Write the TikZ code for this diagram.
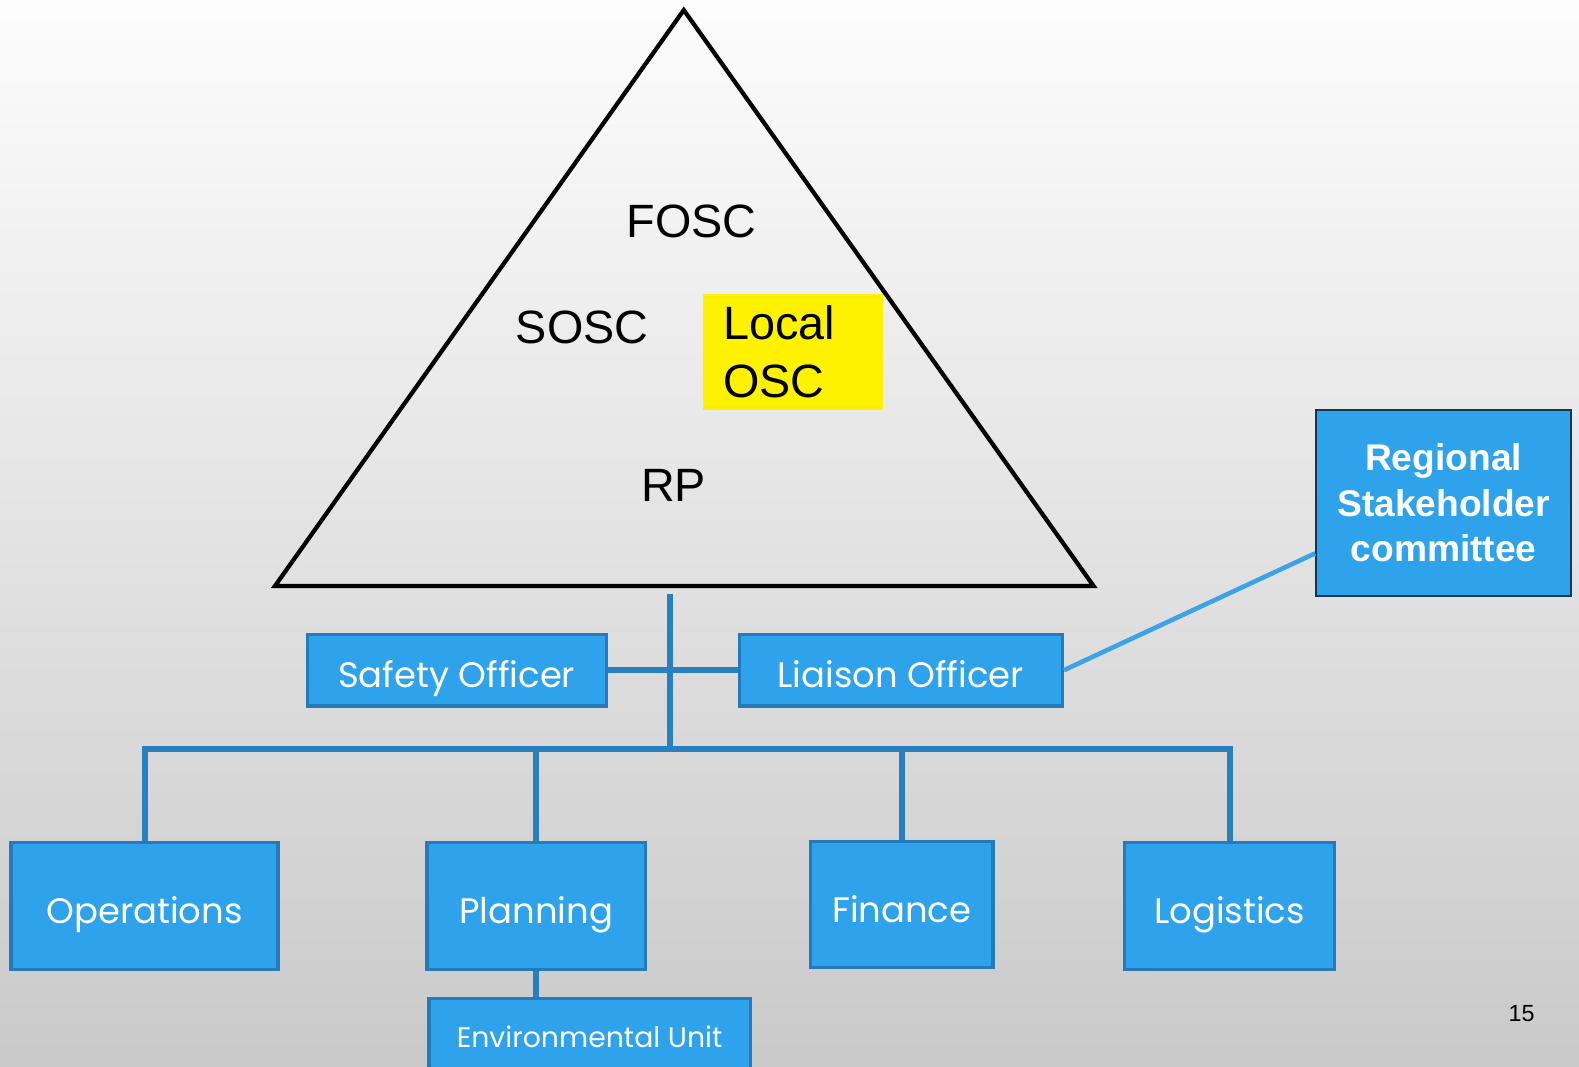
\documentclass[tikz,border=0pt]{standalone}
\usepackage{fontspec}
\setmainfont{Liberation Sans}
\newfontfamily\boxfont{Poppins}
\usepackage{xcolor}
\usetikzlibrary{arrows.meta}
\definecolor{boxblue}{RGB}{46,163,236}
\definecolor{edgeblue}{RGB}{36,122,186}
\definecolor{lineblue}{RGB}{40,128,192}
\definecolor{linkblue}{RGB}{59,163,230}

\begin{document}
\begin{tikzpicture}[
  unit/.style={draw=edgeblue, line width=0.9pt, fill=boxblue, text=white, text height=0.35cm, text depth=0pt, font=\boxfont\fontsize{10}{12}\selectfont},
  conn/.style={lineblue, line width=1.7pt},
  big/.style={font=\fontsize{13.2}{16.5}\selectfont}]
\fill[top color=black!1, bottom color=black!21] (0,0) rectangle (15.68,10.59);
\useasboundingbox (0,0) rectangle (15.68,10.59);

\draw[line width=1.2pt, line join=miter] (6.79,10.49) -- (2.73,4.77) -- (10.86,4.77) -- cycle;
\node (FOSC) at (6.87,8.39) [big] {FOSC};
\node (SOSC) at (5.78,7.34) [big] {SOSC};
\node (LOSC) at (7.875,7.095) [big, fill=yellow, minimum width=1.79cm, minimum height=1.15cm, text width=1.39cm, inner xsep=0.2cm, align=left] {Local\\OSC};
\node (RP) at (6.69,5.77) [big] {RP};
\coordinate (T) at (6.65,4.69);
\coordinate (B) at (6.65,3.15);

\node (SO) at (4.535,3.935) [unit, minimum width=2.97cm, minimum height=0.71cm] {Safety Officer};
\node (LO) at (8.945,3.935) [unit, minimum width=3.21cm, minimum height=0.71cm] {Liaison Officer};
\node (RSC) at (14.335,5.595) [draw=black!55!edgeblue, line width=0.6pt, fill=boxblue, text=white, minimum width=2.53cm, minimum height=1.85cm, align=center, font=\bfseries\fontsize{10.5}{12.8}\selectfont] {Regional\\Stakeholder\\committee};

\node (Ops) at (1.435,1.59) [unit, minimum width=2.65cm, minimum height=1.26cm] {Operations};
\node (Plan) at (5.325,1.59) [unit, minimum width=2.17cm, minimum height=1.26cm] {Planning};
\node (Fin) at (8.955,1.605) [unit, minimum width=1.81cm, minimum height=1.25cm] {Finance};
\node (Log) at (12.21,1.59) [unit, minimum width=2.08cm, minimum height=1.26cm] {Logistics};
\node (Env) at (5.855,0.69) [unit, anchor=north, minimum width=3.19cm, minimum height=0.76cm, text height=0.22cm, font=\boxfont\fontsize{8}{10}\selectfont] {Environmental Unit};

\draw[conn] (T) -- (B);
\draw[conn] (SO.east) -- (LO.west);
\draw[conn] (Ops.north) |- (B) -| (Log.north);
\draw[conn] (Plan.north) -- (Plan.north |- B);
\draw[conn] (Fin.north) -- (Fin.north |- B);
\draw[conn] (Plan.south) -- (Env.north -| Plan.south);
\draw[linkblue, line width=1.3pt] (LO.east) -- ([yshift=-0.5cm]RSC.west);

\node (P) at (15.11,0.52) {\fontsize{6.6}{8}\selectfont 15};
\end{tikzpicture}
\end{document}
